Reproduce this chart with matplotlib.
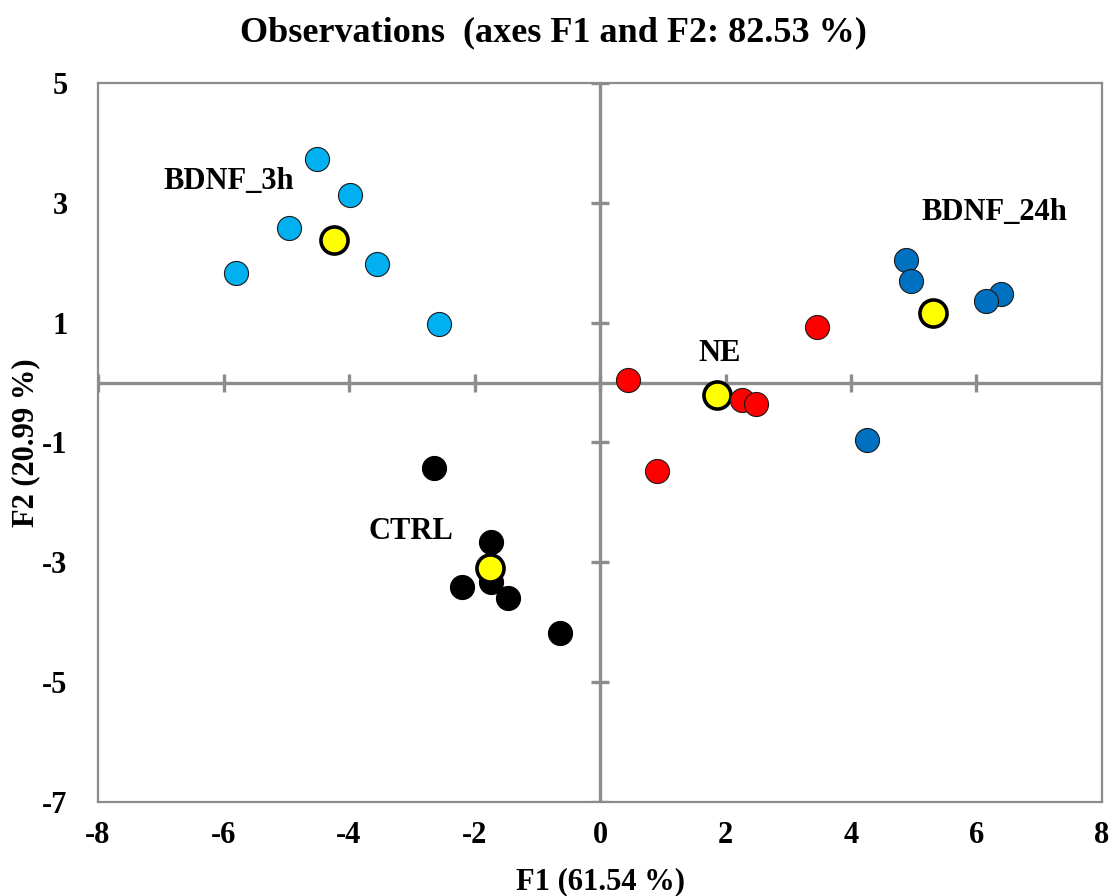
import numpy as np
import matplotlib
matplotlib.use("Agg")
import matplotlib.pyplot as plt

# -----------------------------
# data (PCA observation scores)
# -----------------------------
bdnf3_x = [-4.51, -3.98, -4.96, -5.80, -3.55, -2.57]
bdnf3_y = [3.73, 3.13, 2.58, 1.83, 1.98, 0.98]

bdnf24_x = [4.88, 4.96, 6.39, 6.15, 4.26]
bdnf24_y = [2.04, 1.69, 1.48, 1.36, -0.96]

ne_x = [0.45, 3.46, 2.26, 2.49, 0.91]
ne_y = [0.04, 0.93, -0.29, -0.36, -1.48]

ctrl_x = [-2.65, -1.74, -2.20, -1.74, -1.47, -0.64]
ctrl_y = [-1.43, -2.66, -3.41, -3.33, -3.60, -4.18]

# group centroids (yellow)
cent_x = [-4.24, 5.31, 1.86, -1.75]
cent_y = [2.38, 1.16, -0.21, -3.10]

group_names = ["BDNF_3h", "BDNF_24h", "NE", "CTRL"]
label_x = [-5.91, 6.29, 1.90, -3.01]
label_y = [3.35, 2.83, 0.49, -2.49]

xticks = [-8, -6, -4, -2, 0, 2, 4, 6, 8]
yticks = [-7, -5, -3, -1, 1, 3, 5]

# -----------------------------
# style
# -----------------------------
plt.rcParams['font.family'] = ['Liberation Serif', 'DejaVu Serif']
plt.rcParams['font.weight'] = 'bold'
plt.rcParams['axes.unicode_minus'] = False
gray = '#8c8c8c'

fig = plt.figure(figsize=(11.13, 8.96), dpi=100)
ax = fig.add_axes([0.0881, 0.1049, 0.9020, 0.8025])

ax.set_xlim(-8, 8)
ax.set_ylim(-7, 5)

for sp in ax.spines.values():
    sp.set_color(gray)
    sp.set_linewidth(1.6)

# zero axes with crossing ticks
ax.axhline(0, color=gray, lw=2.4, zorder=1)
ax.axvline(0, color=gray, lw=2.4, zorder=1)
ax.plot(xticks, np.zeros(len(xticks)), ls='none', marker='|', ms=13, mew=2.4, color=gray, zorder=1)
ax.plot(np.zeros(len(yticks)), yticks, ls='none', marker='_', ms=13, mew=2.4, color=gray, zorder=1)

# observations
ax.scatter(bdnf3_x, bdnf3_y, s=300, c='#00b0f0', edgecolors='#1a1a1a', linewidths=0.8, zorder=3)
ax.scatter(bdnf24_x, bdnf24_y, s=300, c='#0070c0', edgecolors='#1a1a1a', linewidths=0.8, zorder=3)
ax.scatter(ctrl_x, ctrl_y, s=300, c='black', edgecolors='black', linewidths=0.8, zorder=3)
ax.scatter(cent_x, cent_y, s=380, c='#ffff00', edgecolors='black', linewidths=2.6, zorder=4)
ax.scatter(ne_x, ne_y, s=300, c='#ff0000', edgecolors='#1a1a1a', linewidths=0.8, zorder=5)

for name, lx, ly in zip(group_names, label_x, label_y):
    ax.text(lx, ly, name, fontsize=22, fontweight='bold', ha='center', va='center', zorder=6)

ax.set_xticks(xticks)
ax.set_yticks(yticks)
ax.tick_params(length=0, labelsize=22, pad=14)
ax.tick_params(axis='y', pad=22)

ax.set_xlabel("F1 (61.54 %)", fontsize=22, fontweight='bold')
ax.set_ylabel("F2 (20.99 %)", fontsize=22, fontweight='bold')
ax.xaxis.set_label_coords(0.5, -0.09)
ax.yaxis.set_label_coords(-0.058, 0.5)
fig.text(0.497, 0.963, "Observations  (axes F1 and F2: 82.53 %)", fontsize=26,
         fontweight='bold', ha='center', va='center')

fig.savefig("out.png", dpi=100)
